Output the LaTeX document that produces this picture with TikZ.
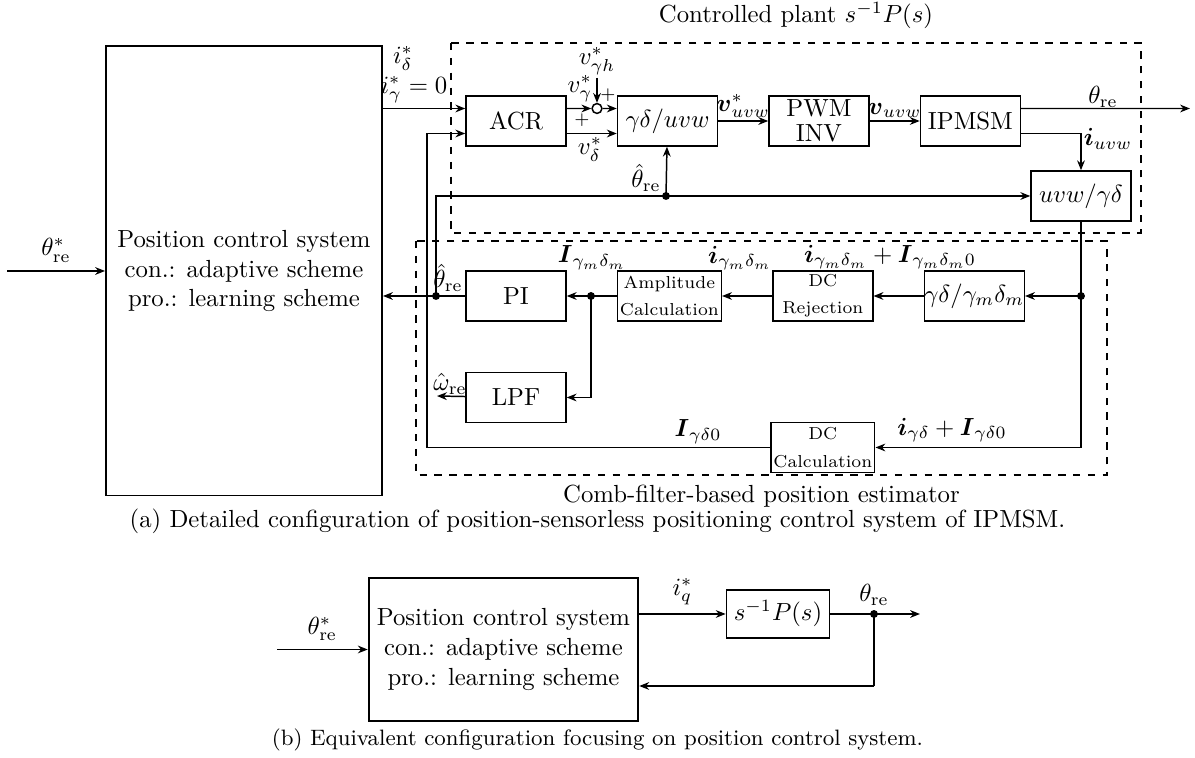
\documentclass[tikz,border=0pt]{standalone}
\usepackage{amsmath,amssymb}
\usepackage{tikz}
\usetikzlibrary{arrows.meta,positioning,calc}

\begin{document}
\begin{tikzpicture}[
  x=0.71cm, y=0.71cm,
  node distance=0.71cm,
  blk/.style={draw, semithick, minimum width=1.42cm, minimum height=0.71cm,
              inner sep=1pt, align=center},
  smallblk/.style={blk, font=\scriptsize},
  pcsbox/.style={draw, thick, align=center},
  grp/.style={draw, thick, dashed},
  arr/.style={-{Stealth[length=1.4mm,width=1.1mm]}, semithick},
  wire/.style={semithick},
  lbl/.style={inner sep=0.5pt},
  sgn/.style={inner sep=0pt, font=\scriptsize}
]
  \useasboundingbox (-0.32,0.42) rectangle (23.58,-14.74);

  % (a) detailed configuration
  \node[pcsbox, minimum width=3.919cm, minimum height=6.376cm] (pcs) at (4.56,-5)
    {Position control system\\con.: adaptive scheme\\pro.: learning scheme};

  \node[blk] (acr) at (10,-2) {ACR};
  \node[blk, right=of acr] (gd2uvw) {$\gamma\delta/uvw$};
  \node[blk, right=of gd2uvw, inner ysep=0pt] (pwm) {PWM\\[-2pt]INV};
  \node[blk, right=of pwm] (ipmsm) {IPMSM};
  \node[blk] (uvw2gd) at (21.3,-3.5) {$uvw/\gamma\delta$};
  \node[draw, circle, semithick, inner sep=0pt, minimum size=0.14cm] (sum) at (11.62,-1.75) {};

  \node[blk] (pi) at (10,-5.5) {PI};
  \node[smallblk, right=of pi] (amp) {Amplitude\\[3pt]Calculation};
  \node[smallblk, right=of amp] (dcrej) {DC\\[3pt]Rejection};
  \node[blk, right=of dcrej, inner xsep=0pt] (conv) {$\gamma\delta/\gamma_m\delta_m$};
  \node[blk, below=of pi] (lpf) {LPF};
  \node[smallblk, below=1.42cm of dcrej] (dcc) {DC\\[3pt]Calculation};

  \draw[grp] (8.7,-0.44) rectangle (22.5,-4.24);
  \draw[grp] (8.0,-4.4) rectangle (21.82,-9.08);
  \node[inner sep=0pt] (plantlbl) at (15.6,0.1) {Controlled plant $s^{-1}P(s)$};
  \node[inner sep=0pt] (estlbl) at (14.91,-9.5) {Comb-filter-based position estimator};

  \coordinate (thin) at (-0.18,-5);
  \coordinate (thout) at (23.48,-1.75);
  \coordinate (vh) at (11.62,-1.14);
  \coordinate (wout) at (8.42,-7.5);
  \coordinate (jt) at (8.4,-5.5);
  \coordinate (jth) at (13,-3.5);
  \coordinate (jl) at (11.5,-5.5);
  \coordinate (jr) at (21.3,-5.5);
  \coordinate (fb) at (8.22,-8.5);
  \coordinate (acrin1) at ($(acr.west)+(0,0.25)$);
  \coordinate (acrin2) at ($(acr.west)+(0,-0.25)$);
  \coordinate (acrout1) at ($(acr.east)+(0,0.25)$);
  \coordinate (acrout2) at ($(acr.east)+(0,-0.25)$);
  \coordinate (gdin1) at ($(gd2uvw.west)+(0,0.25)$);
  \coordinate (gdin2) at ($(gd2uvw.west)+(0,-0.25)$);
  \coordinate (ipout1) at ($(ipmsm.east)+(0,0.25)$);
  \coordinate (ipout2) at ($(ipmsm.east)+(0,-0.25)$);

  \draw[arr] (thin) -- (pcs) node[midway, above] {$\theta^*_{\mathrm{re}}$};
  \draw[arr] (pcs.east |- acrin1) -- (acrin1);
  \node[lbl] (idlbl) at (7.74,-0.74) {$i^*_\delta$};
  \node[lbl] (iglbl) at (7.96,-1.38) {$i^*_\gamma=0$};
  \draw[arr] (acrout1) -- (sum);
  \draw[arr] (sum) -- (gdin1);
  \draw[arr] (acrout2) -- (gdin2);
  \draw[arr] (vh) -- (sum);
  \node[above, inner sep=1pt] (vhlbl) at (vh) {$v^*_{\gamma h}$};
  \node[lbl] (vglbl) at (11.28,-1.36) {$v^*_\gamma$};
  \node[lbl] (vdlbl) at (11.48,-2.56) {$v^*_\delta$};
  \node[sgn] (plus1) at (11.84,-1.48) {$+$};
  \node[sgn] (plus2) at (11.32,-1.98) {$+$};
  \draw[arr] (gd2uvw) -- (pwm) node[midway, above, inner sep=1pt] {$\boldsymbol{v}^*_{uvw}$};
  \draw[arr] (pwm) -- (ipmsm) node[midway, above, inner sep=1pt] {$\boldsymbol{v}_{uvw}$};
  \draw[arr] (ipout1) -- (thout);
  \node[lbl] (thlbl) at (21.74,-1.52) {$\theta_{\mathrm{re}}$};
  \draw[arr] (ipout2) -| (uvw2gd);
  \node[lbl] (iuvwlbl) at (21.84,-2.36) {$\boldsymbol{i}_{uvw}$};

  \draw[wire] (jt) |- (jth);
  \draw[arr] (jth) -- (uvw2gd);
  \draw[arr] (jth) -- (gd2uvw);
  \node[lbl] (thhlbl) at (12.6,-3.14) {$\hat{\theta}_{\mathrm{re}}$};

  \draw[wire] (uvw2gd) -- (jr);
  \draw[arr] (jr) -- (conv);
  \draw[arr] (conv) -- (dcrej);
  \draw[arr] (dcrej) -- (amp);
  \draw[arr] (amp) -- (pi);
  \draw[arr] (pi) -- (pi -| pcs.east);
  \draw[arr] (jl) |- (lpf);
  \draw[arr] (lpf) -- (wout);
  \draw[arr] (jr) |- (dcc);
  \draw[arr] (dcc) -- (dcc -| fb) |- (acrin2);
  \node[lbl] (sumlbl) at (17.48,-4.72) {$\boldsymbol{i}_{\gamma_m\delta_m}+\boldsymbol{I}_{\gamma_m\delta_m0}$};
  \node[lbl] (acomplbl) at (14.48,-4.74) {$\boldsymbol{i}_{\gamma_m\delta_m}$};
  \node[lbl] (amplbl) at (11.52,-4.74) {$\boldsymbol{I}_{\gamma_m\delta_m}$};
  \node[lbl] (thestlbl) at (8.64,-5.14) {$\hat{\theta}_{\mathrm{re}}$};
  \node[lbl] (westlbl) at (8.68,-7.26) {$\hat{\omega}_{\mathrm{re}}$};
  \node[lbl] (dcinlbl) at (18.72,-8.18) {$\boldsymbol{i}_{\gamma\delta}+\boldsymbol{I}_{\gamma\delta0}$};
  \node[lbl] (dcoutlbl) at (13.64,-8.22) {$\boldsymbol{I}_{\gamma\delta0}$};

  \foreach \j in {jt,jth,jl,jr}
    \fill (\j) circle (1.6pt);

  \node[inner sep=0pt] (capa) at (11.63,-10.0)
    {(a) Detailed configuration of position-sensorless positioning control system of IPMSM.};

  % (b) equivalent configuration
  \node[pcsbox, minimum width=3.735cm, minimum height=2.031cm] (pcsb) at (9.75,-12.57)
    {Position control system\\con.: adaptive scheme\\pro.: learning scheme};
  \node[blk, minimum width=1.36cm, minimum height=0.68cm, inner sep=3pt] (plant) at (15.24,-11.86) {$s^{-1}P(s)$};
  \coordinate (thinb) at (5.22,-12.57);
  \coordinate (jb) at (17.16,-11.86);
  \coordinate (thoutb) at (18.08,-11.86);
  \coordinate (fbb) at (17.16,-13.3);
  \draw[arr] (thinb) -- (pcsb) node[midway, above] {$\theta^*_{\mathrm{re}}$};
  \draw[arr] (pcsb.east |- plant) -- (plant) node[midway, above] {$i^*_q$};
  \draw[arr] (plant) -- (thoutb);
  \draw[wire] (jb) -- (fbb);
  \draw[arr] (fbb) -- (pcsb.east |- fbb);
  \fill (jb) circle (1.6pt);
  \node[above] (thblbl) at (jb) {$\theta_{\mathrm{re}}$};

  \node[inner sep=0pt, font=\fontsize{9}{11}\selectfont] (capb) at (11.63,-14.38)
    {(b) Equivalent configuration focusing on position control system.};
\end{tikzpicture}
\end{document}
